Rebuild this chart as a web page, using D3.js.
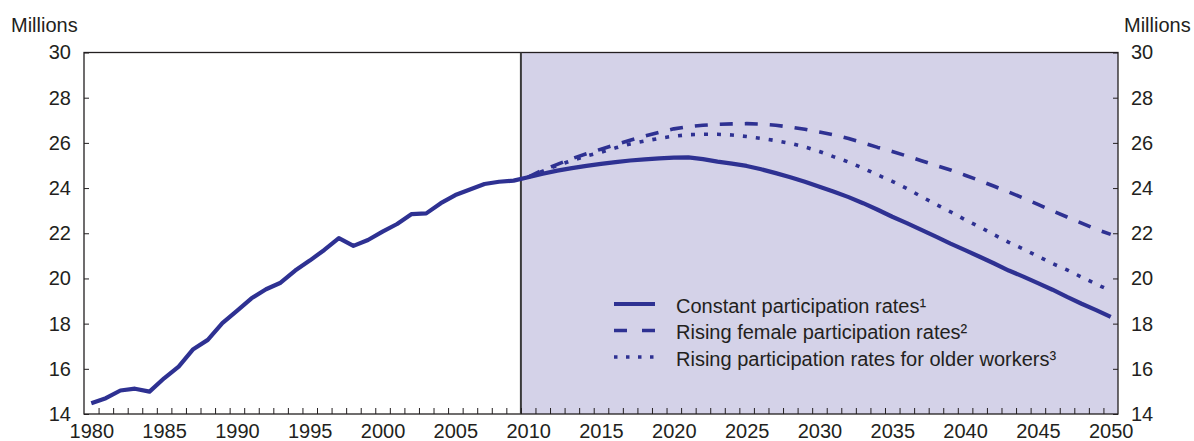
<!DOCTYPE html>
<html>
<head>
<meta charset="utf-8">
<script src="https://cdn.jsdelivr.net/npm/d3@7"></script>
<style>
  html, body { margin: 0; padding: 0; background: #fff; }
  text { font-family: "Liberation Sans", Arial, sans-serif; fill: #231f20; }
</style>
</head>
<body>
<div id="chart"></div>
<script>
'use strict'

// historical years 1980-2009, projections 2010-2050
let histYears = d3.range(1980, 2010)
let histValues = [14.48, 14.70, 15.04, 15.12, 14.99, 15.58, 16.10, 16.87, 17.28, 18.02,
  18.56, 19.12, 19.52, 19.81, 20.35, 20.79, 21.26, 21.78, 21.44, 21.70,
  22.07, 22.41, 22.85, 22.88, 23.33, 23.69, 23.94, 24.18, 24.28, 24.33]

let projYears = d3.range(2010, 2051)
let constantRates = [24.48, 24.63, 24.77, 24.88, 24.98, 25.07, 25.15, 25.22, 25.27, 25.31,
  25.35, 25.36, 25.28, 25.17, 25.08, 24.98, 24.83, 24.66, 24.48, 24.28,
  24.06, 23.84, 23.60, 23.33, 23.04, 22.73, 22.45, 22.15, 21.85, 21.54,
  21.25, 20.96, 20.66, 20.35, 20.08, 19.79, 19.50, 19.18, 18.88, 18.60, 18.30]
let femaleRates = [24.48, 24.80, 25.05, 25.30, 25.52, 25.72, 25.92, 26.12, 26.30, 26.47,
  26.62, 26.72, 26.78, 26.82, 26.84, 26.85, 26.83, 26.78, 26.70, 26.60,
  26.48, 26.35, 26.19, 26.00, 25.80, 25.62, 25.42, 25.21, 25.00, 24.80,
  24.57, 24.33, 24.08, 23.82, 23.56, 23.28, 22.99, 22.72, 22.45, 22.18, 21.95]
let olderRates = [24.48, 24.75, 25.00, 25.22, 25.42, 25.58, 25.78, 25.95, 26.08, 26.20,
  26.30, 26.36, 26.38, 26.38, 26.35, 26.28, 26.20, 26.10, 25.98, 25.82,
  25.62, 25.38, 25.15, 24.88, 24.58, 24.30, 23.98, 23.62, 23.28, 22.95,
  22.60, 22.28, 21.93, 21.60, 21.30, 20.98, 20.66, 20.38, 20.06, 19.75, 19.45]

let xLabels = d3.range(1980, 2051, 5)
let yTicks = d3.range(14, 31, 2)
let legendLabels = ["Constant participation rates\u00b9",
  "Rising female participation rates\u00b2",
  "Rising participation rates for older workers\u00b3"]

let width = 1194
let height = 441
let margin = { top: 52.5, right: 76, bottom: 27, left: 84 }
let lineColor = "#2e3192"
let shade = "#d4d2e8"
let dashes = [null, "13,12", "4,9"]

let svg = d3.select("#chart").append("svg")
  .attr("width", width)
  .attr("height", height)

let x = d3.scaleLinear()
  .domain([1979.5, 2050.5])
  .range([margin.left, width - margin.right])

let y = d3.scaleLinear()
  .domain([14, 30])
  .range([height - margin.bottom, margin.top])

// projection shading
svg.append("rect")
  .attr("x", x(2009.5))
  .attr("y", y(30))
  .attr("width", x(2050.5) - x(2009.5))
  .attr("height", y(14) - y(30))
  .style("fill", shade)

// frame
svg.append("rect")
  .attr("x", x(1979.5))
  .attr("y", y(30))
  .attr("width", x(2050.5) - x(1979.5))
  .attr("height", y(14) - y(30))
  .style("fill", "none")
  .style("stroke", "#231f20")
  .style("stroke-width", 1.3)

svg.append("line")
  .attr("x1", x(2009.5)).attr("x2", x(2009.5))
  .attr("y1", y(30)).attr("y2", y(14))
  .style("stroke", "#3a3a3a")
  .style("stroke-width", 2)

// axes
let yLeft = d3.axisLeft(y).tickValues(yTicks).tickSize(-5).tickPadding(13)
let yRight = d3.axisRight(y).tickValues(yTicks).tickSize(-5).tickPadding(13)
let xTicks = d3.axisBottom(x).tickValues(d3.range(1980.5, 2050, 1)).tickSize(-6).tickFormat("")
let xLab = d3.axisBottom(x).tickValues(xLabels).tickSize(0).tickPadding(10).tickFormat(d3.format("d"))

function styleAxis(g) {
  g.select(".domain").remove()
  g.selectAll("line").style("stroke", "#231f20").style("stroke-width", 1)
  g.selectAll("text").style("font-size", "20px").style("fill", "#231f20")
    .style("font-family", "'Liberation Sans', Arial, sans-serif")
}

svg.append("g").attr("transform", "translate(" + margin.left + ",0)").call(yLeft).call(styleAxis)
svg.append("g").attr("transform", "translate(" + (width - margin.right) + ",0)").call(yRight).call(styleAxis)
svg.append("g").attr("transform", "translate(0," + (height - margin.bottom) + ")").call(xTicks).call(styleAxis)
svg.append("g").attr("transform", "translate(0," + (height - margin.bottom) + ")").call(xLab).call(styleAxis)

svg.append("text").attr("x", 11).attr("y", 31.5).style("font-size", "20px").text("Millions")
svg.append("text").attr("x", 1124).attr("y", 31.5).style("font-size", "20px").text("Millions")

// lines
let line = d3.line()
  .x(d => x(d[0]))
  .y(d => y(d[1]))

let series = [
  histYears.map((yr, i) => [yr, histValues[i]]).concat(projYears.map((yr, i) => [yr, constantRates[i]])),
  projYears.map((yr, i) => [yr, femaleRates[i]]),
  projYears.map((yr, i) => [yr, olderRates[i]])
]

svg.selectAll(".series")
  .data(series)
  .enter()
  .append("path")
  .attr("class", "series")
  .attr("d", line)
  .style("fill", "none")
  .style("stroke", lineColor)
  .style("stroke-width", (d, i) => i == 0 ? 4.2 : 3.6)
  .style("stroke-dasharray", (d, i) => dashes[i])
  .style("stroke-linejoin", "round")

// legend
let legend = svg.selectAll(".legend")
  .data(legendLabels)
  .enter()
  .append("g")
  .attr("class", "legend")
  .attr("transform", (d, i) => "translate(614," + (304 + i * 26.5) + ")")

legend.append("line")
  .attr("x1", 0).attr("x2", 41)
  .attr("y1", 0).attr("y2", 0)
  .style("stroke", lineColor)
  .style("stroke-width", (d, i) => i == 0 ? 4.2 : 3.6)
  .style("stroke-dasharray", (d, i) => i == 0 ? null : (i == 1 ? "13,15" : "3.5,8.5"))

legend.append("text")
  .attr("x", 62)
  .attr("y", 8.5)
  .style("font-size", "20px")
  .text(d => d)
</script>
</body>
</html>
